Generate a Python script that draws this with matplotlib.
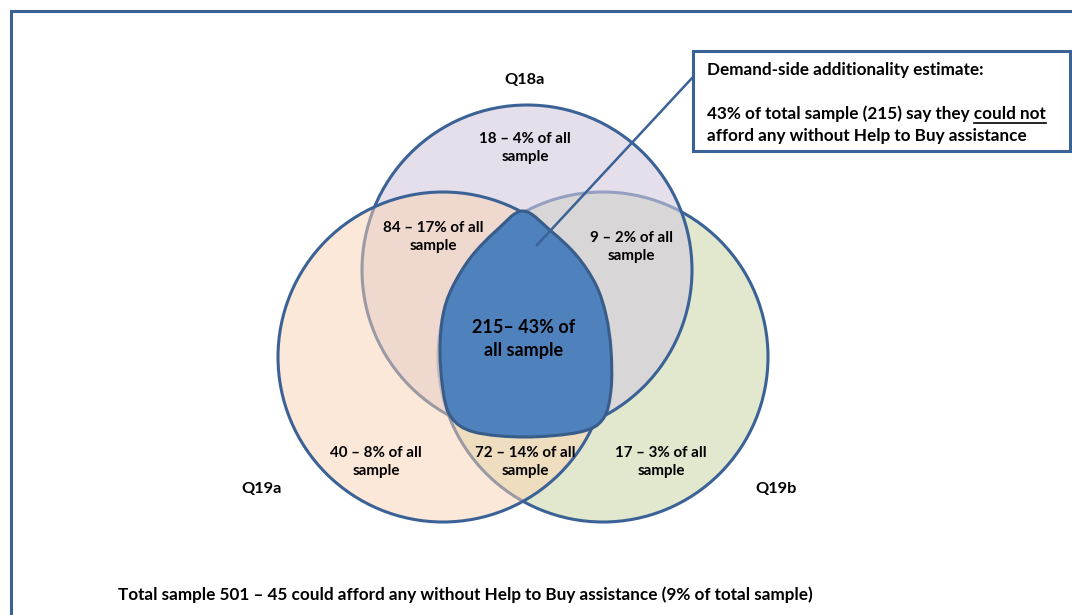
import numpy as np
import matplotlib
matplotlib.use('Agg')
import matplotlib.pyplot as plt
from matplotlib.patches import Circle, PathPatch, Rectangle
from matplotlib.path import Path

plt.rcParams['font.family'] = ['Lato', 'DejaVu Sans']

# --- data ---
set_names = ['Q18a', 'Q19a', 'Q19b']
region_names = ['Q18a only', 'Q18a & Q19a', 'Q18a & Q19b', 'All three',
                'Q19a only', 'Q19a & Q19b', 'Q19b only']
counts = [18, 84, 9, 215, 40, 72, 17]
shares = [4, 17, 2, 43, 8, 14, 3]
total_sample = 501
no_help_count = 45
no_help_share = 9

# --- layout (pixel coordinates, y downwards) ---
W, H = 1072, 615
circle_xy = {'Q18a': (527, 270), 'Q19a': (443, 357), 'Q19b': (603, 357)}
radius = 165
circle_face = {'Q18a': ((210/255, 202/255, 223/255), 0.6),
               'Q19a': ((251/255, 211/255, 179/255), 0.5),
               'Q19b': ((205/255, 218/255, 172/255), 0.6)}
circle_order = ['Q19b', 'Q18a', 'Q19a']
set_label_xy = {'Q18a': (525, 80), 'Q19a': (262, 489), 'Q19b': (776, 489)}
region_xy = [(525, 148), (433, 237), (631, 247), (524, 339),
             (376, 462), (525, 462), (661, 462)]
# outline of the highlighted core area
blob_outline = [(523, 211), (551, 231), (577, 256), (596, 285), (606, 315),
                (611, 350), (611, 390), (603, 419), (580, 432), (525, 437),
                (474, 432), (451, 417), (443, 390), (440, 350), (443, 315),
                (452, 288), (471, 257), (497, 230)]

edge = '#3b6296'

fig = plt.figure(figsize=(W / 100, H / 100), dpi=100)
ax = fig.add_axes([0, 0, 1, 1])
ax.set_xlim(0, W)
ax.set_ylim(H, 0)
ax.axis('off')

# outer frame (runs off right and bottom)
ax.plot([11, 11, W + 5], [H + 5, 11, 11], color=edge, lw=2.2,
        solid_joinstyle='miter', zorder=0)

for z, name in enumerate(circle_order):
    col, a = circle_face[name]
    ax.add_patch(Circle(circle_xy[name], radius, facecolor=(*col, a),
                        edgecolor=edge, lw=2.2, zorder=1 + z))

# smooth closed blob (Catmull-Rom -> Bezier)
pts = np.array(blob_outline, dtype=float)
n = len(pts)
verts = [pts[0]]
codes = [Path.MOVETO]
for i in range(n):
    p0, p1, p2, p3 = pts[i - 1], pts[i], pts[(i + 1) % n], pts[(i + 2) % n]
    verts += [p1 + (p2 - p0) / 6, p2 - (p3 - p1) / 6, p2]
    codes += [Path.CURVE4] * 3
verts.append(pts[0])
codes.append(Path.CLOSEPOLY)
ax.add_patch(PathPatch(Path(verts, codes), facecolor='#4f81bd',
                       edgecolor='#385d8a', lw=2.2, zorder=5))

# labels
fs = 10.9
fs_big = 12.3
for name in set_names:
    x, y = set_label_xy[name]
    ax.text(x, y, name, ha='center', va='center', fontsize=11.8,
            fontweight='bold', zorder=8)

for i, (x, y) in enumerate(region_xy):
    if region_names[i] == 'All three':
        txt = f'{counts[i]}\u2013 {shares[i]}% of\nall sample'
        ax.text(x, y, txt, ha='center', va='center', fontsize=13,
                fontweight='bold', linespacing=1.45, zorder=8)
    else:
        txt = f'{counts[i]} \u2013 {shares[i]}% of all\nsample'
        ax.text(x, y, txt, ha='center', va='center', fontsize=fs,
                fontweight='bold', linespacing=1.45, zorder=8)

# callout
ax.plot([537, 693], [245, 77], color=edge, lw=1.8, zorder=6)
ax.add_patch(Rectangle((693, 51), 377, 100, facecolor='white',
                       edgecolor=edge, lw=2.2, zorder=7))
ax.text(707, 70, 'Demand-side additionality estimate:', ha='left',
        va='center', fontsize=fs_big, fontweight='bold', zorder=8)
line1 = f'{shares[3]}% of total sample ({counts[3]}) say they could not'
t1 = ax.text(707, 114, line1, ha='left', va='center', fontsize=fs_big,
             fontweight='bold', zorder=8)
ax.text(707, 136, 'afford any without Help to Buy assistance', ha='left',
        va='center', fontsize=fs_big, fontweight='bold', zorder=8)

# underline "could not"
r = fig.canvas.get_renderer()
tmp = ax.text(0, 0, 'could not', fontsize=fs_big, fontweight='bold')
w_under = tmp.get_window_extent(r).width
tmp.remove()
bb = t1.get_window_extent(r)
inv = ax.transData.inverted()
x_end = inv.transform((bb.x1, bb.y0))[0]
x_start = inv.transform((bb.x1 - w_under, bb.y0))[0]
ax.plot([x_start, x_end], [122.5, 122.5], color='black', lw=1.2, zorder=8)

ax.text(118, 595,
        f'Total sample {total_sample} \u2013 {no_help_count} could afford any '
        f'without Help to Buy assistance ({no_help_share}% of total sample)',
        ha='left', va='center', fontsize=fs_big, fontweight='bold', zorder=8)

fig.savefig('out.png', dpi=100)
